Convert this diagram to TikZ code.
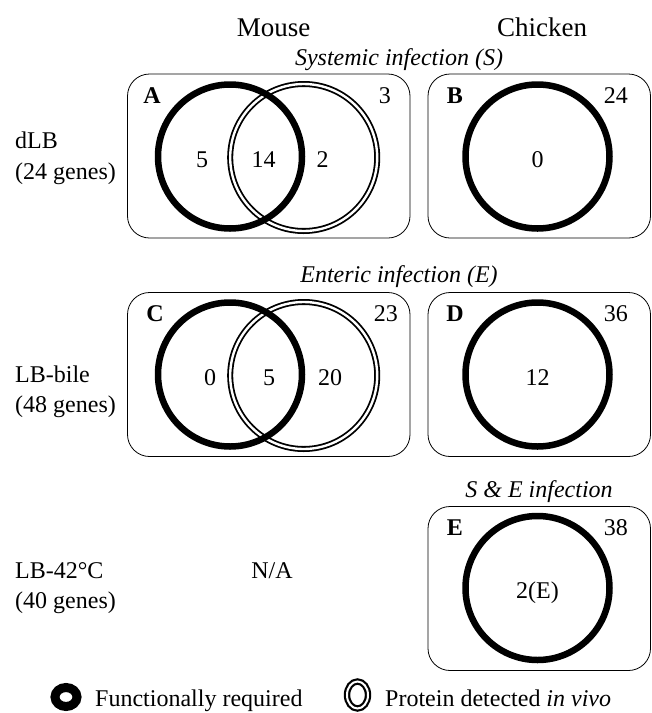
\documentclass[tikz,border=0pt]{standalone}
\usepackage{fontspec}
\setmainfont{Liberation Serif}
\usetikzlibrary{shapes.geometric}
\begin{document}
\begin{tikzpicture}[x=1pt,y=-1pt,
  txt/.style={font=\fontsize{24}{28}\selectfont, inner sep=0pt},
  hdr/.style={font=\fontsize{27}{32}\selectfont, inner sep=0pt},
  frame/.style={draw, line width=0.8pt, rounded corners=22pt, inner sep=0pt},
  req/.style={draw, circle, line width=6.5pt, minimum size=144pt, inner sep=0pt},
  prot/.style={draw, circle, line width=1.8pt, double=white, double distance=2.4pt, minimum size=147pt, inner sep=0pt},
  mframe/.style={frame, minimum width=282.5pt, minimum height=164pt},
  cframe/.style={frame, minimum width=222.5pt, minimum height=164pt},
]
\useasboundingbox (0,0) rectangle (652,713);

% headers
\node[hdr, anchor=base] (mouse) at (273.5,36) {Mouse};
\node[hdr, anchor=base] (chicken) at (542,36) {Chicken};

% ---------- Row 1 ----------
\node[txt, anchor=base] (tS) at (399,65) {\itshape Systemic infection (S)};
\node[txt, anchor=base west] (dlb1) at (15,148) {dLB};
\node[txt, anchor=base west] (dlb2) at (15,179) {(24 genes)};

\node[mframe] (boxA) at (268.75,156) {};
\node[prot] (protA) at (303.7,157.5) {};
\node[req] (reqA) at (230,156.5) {};
\node[txt, anchor=base] (labA) at (152,103) {\bfseries A};
\node[txt, anchor=base east] (outA) at (391,103) {3};
\node[txt, anchor=base] (a1) at (202,167) {5};
\node[txt, anchor=base] (a2) at (263.5,167) {14};
\node[txt, anchor=base] (a3) at (322.5,167) {2};

\node[cframe] (boxB) at (539.25,156) {};
\node[req] (reqB) at (537.5,156.5) {};
\node[txt, anchor=base] (labB) at (455,103) {\bfseries B};
\node[txt, anchor=base east] (outB) at (628,103) {24};
\node[txt, anchor=base] (b1) at (537.5,167) {0};

% ---------- Row 2 ----------
\node[txt, anchor=base] (tE) at (399,282) {\itshape Enteric infection (E)};
\node[txt, anchor=base west] (bile1) at (15,382) {LB-bile};
\node[txt, anchor=base west] (bile2) at (15,412) {(48 genes)};

\node[mframe] (boxC) at (268.75,374.5) {};
\node[prot] (protC) at (303.7,375.5) {};
\node[req] (reqC) at (230,374.5) {};
\node[txt, anchor=base] (labC) at (155,321) {\bfseries C};
\node[txt, anchor=base east] (outC) at (398,321) {23};
\node[txt, anchor=base] (c1) at (210,385) {0};
\node[txt, anchor=base] (c2) at (269,385) {5};
\node[txt, anchor=base] (c3) at (330,385) {20};

\node[cframe] (boxD) at (539.25,374.5) {};
\node[req] (reqD) at (537.5,374.5) {};
\node[txt, anchor=base] (labD) at (455,321) {\bfseries D};
\node[txt, anchor=base east] (outD) at (628,321) {36};
\node[txt, anchor=base] (d1) at (537.5,385) {12};

% ---------- Row 3 ----------
\node[txt, anchor=base] (tSE) at (539,497) {\itshape S \& E infection};
\node[txt, anchor=base west] (h1) at (15,578) {LB-42°C};
\node[txt, anchor=base west] (h2) at (15,608) {(40 genes)};
\node[txt, anchor=base] (na) at (272,578) {N/A};

\node[cframe] (boxE) at (539.25,588.5) {};
\node[req] (reqE) at (537.5,588) {};
\node[txt, anchor=base] (labE) at (455,535) {\bfseries E};
\node[txt, anchor=base east] (outE) at (628,535) {38};
\node[txt, anchor=base] (e1) at (537.5,598) {2(E)};

% ---------- Legend ----------
\node[draw, ellipse, line width=9pt, minimum width=22pt, minimum height=19pt, inner sep=0pt] (legreq) at (66,697) {};
\node[txt, anchor=base west] (legreqt) at (95,706) {Functionally required};
\node[draw, ellipse, line width=2.2pt, double=white, double distance=2pt, minimum width=21pt, minimum height=27pt, inner sep=0pt] (legprot) at (357.5,695) {};
\node[txt, anchor=base west] (legprott) at (385,706) {Protein detected \textit{in vivo}};
\end{tikzpicture}
\end{document}
